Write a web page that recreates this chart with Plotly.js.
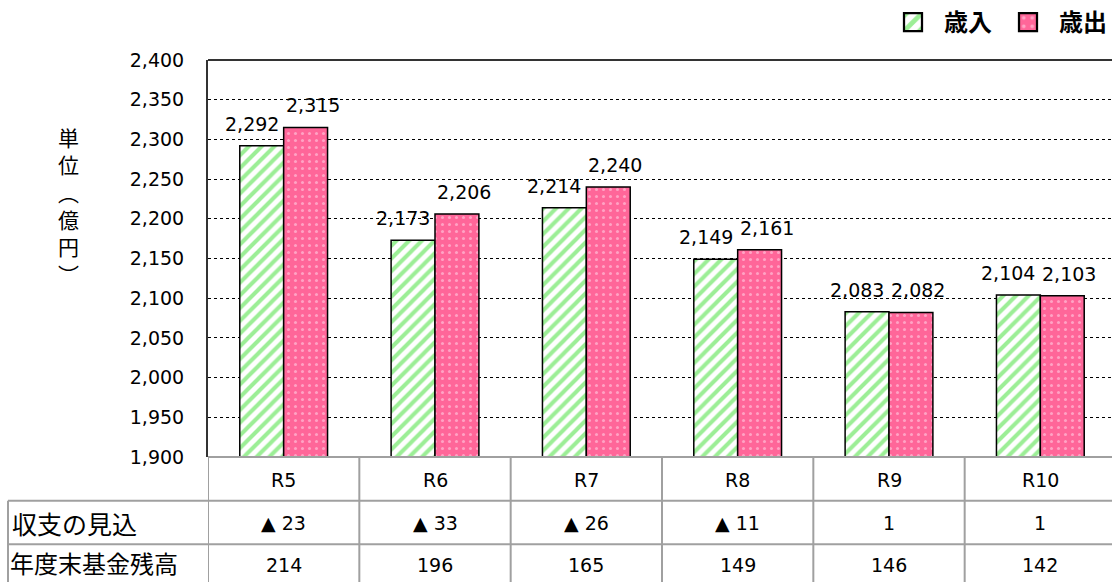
<!DOCTYPE html>
<html><head><meta charset="utf-8">
<script src="https://cdn.plot.ly/plotly-3.0.1.min.js"></script>
<style>html,body{margin:0;padding:0;background:#fff;}#chart{width:1112px;height:582px;}</style>
</head><body><div id="chart"></div>
<script>
const categories = ["R5","R6","R7","R8","R9","R10"];
const revenue = [2292, 2173, 2214, 2149, 2083, 2104];
const expenditure = [2315, 2206, 2240, 2161, 2082, 2103];
const balanceLabels = ["▲ 23","▲ 33","▲ 26","▲ 11","1","1"];
const fundBalance = [214, 196, 165, 149, 146, 142];
const rowTitles = ["収支の見込","年度末基金残高"];
const seriesNames = ["歳入","歳出"];
const yTickVals = [1900,1950,2000,2050,2100,2150,2200,2250,2300,2350,2400];

const FONT = "DejaVu Sans, Noto Sans CJK JP, sans-serif";
const JFONT = "Noto Sans CJK JP, sans-serif";
const NS = 19;
const fmt = v => v.toLocaleString("en-US");

const traces = [
  {type:"bar", name:seriesNames[0], x:categories, y:revenue,
   marker:{color:"#ffffff", line:{color:"#000", width:1.5},
     pattern:{shape:"/", fgcolor:"#9cee96", bgcolor:"#ffffff", size:9, solidity:0.45}},
   hoverinfo:"skip"},
  {type:"bar", name:seriesNames[1], x:categories, y:expenditure,
   marker:{color:"#ff6699", line:{color:"#000", width:1.5},
     pattern:{shape:".", fgcolor:"#ffa3c4", bgcolor:"#ff6699", size:7, solidity:0.15}},
   hoverinfo:"skip"}
];

const ann = [];
categories.forEach((c,i)=>{
  ann.push({x:c, y:revenue[i], xref:"x", yref:"y", text:fmt(revenue[i]), showarrow:false,
    xanchor:"center", yanchor:"bottom", xshift:-32, yshift:9, font:{family:FONT, size:NS, color:"#000"}});
  ann.push({x:c, y:expenditure[i], xref:"x", yref:"y", text:fmt(expenditure[i]), showarrow:false,
    xanchor:"center", yanchor:"bottom", xshift:29, yshift:9, font:{family:FONT, size:NS, color:"#000"}});
  ann.push({x:c, y:-0.057, xref:"x", yref:"paper", text:c, showarrow:false,
    xanchor:"center", yanchor:"middle", font:{family:FONT, size:NS, color:"#000"}});
  ann.push({x:c, y:-0.167, xref:"x", yref:"paper", text:balanceLabels[i], showarrow:false,
    xanchor:"center", yanchor:"middle", font:{family:FONT, size:NS, color:"#000"}});
  ann.push({x:c, y:-0.272, xref:"x", yref:"paper", text:String(fundBalance[i]), showarrow:false,
    xanchor:"center", yanchor:"middle", font:{family:FONT, size:NS, color:"#000"}});
});
ann.push({x:(10-208)/904, y:-0.167, xref:"paper", yref:"paper", text:rowTitles[0], showarrow:false,
  xanchor:"left", yanchor:"middle", font:{family:JFONT, size:25, color:"#000"}});
ann.push({x:(8-208)/904, y:-0.266, xref:"paper", yref:"paper", text:rowTitles[1], showarrow:false,
  xanchor:"left", yanchor:"middle", font:{family:JFONT, size:24, color:"#000"}});
ann.push({x:(68-208)/904, y:(458-205)/400, xref:"paper", yref:"paper",
  text:"単<br>位<br>︵<br>億<br>円<br>︶", showarrow:false, align:"center",
  xanchor:"center", yanchor:"middle", font:{family:JFONT, size:21, color:"#000"}});

const shapes = [];
const G = "#a0a0a0";
const LX = (8-208)/904;
shapes.push({type:"line", xref:"paper", yref:"paper", x0:0, x1:1, y0:1, y1:1, line:{color:"#333", width:2}});
shapes.push({type:"line", xref:"paper", yref:"paper", x0:0, x1:1, y0:0, y1:0, line:{color:G, width:2}});
shapes.push({type:"line", xref:"paper", yref:"paper", x0:LX, x1:1, y0:-0.11, y1:-0.11, line:{color:G, width:2}});
shapes.push({type:"line", xref:"paper", yref:"paper", x0:LX, x1:1, y0:-0.22, y1:-0.22, line:{color:G, width:2}});
shapes.push({type:"line", xref:"paper", yref:"paper", x0:LX, x1:LX, y0:-0.11, y1:-0.35, line:{color:G, width:2}});
for (let k=0;k<=categories.length;k++){
  shapes.push({type:"line", xref:"x", yref:"paper", x0:k-0.5, x1:k-0.5, y0:0, y1:-0.35, line:{color:G, width:2}});
}

const layout = {
  width:1112, height:582,
  margin:{l:208, r:0, t:57, b:125},
  paper_bgcolor:"#fff", plot_bgcolor:"#fff",
  barmode:"group", bargap:0.42, bargroupgap:0,
  showlegend:true,
  legend:{orientation:"h", x:1.0, xanchor:"right", y:1.095, yanchor:"middle",
    font:{family:JFONT, size:24, color:"#000", weight:"bold"}, itemwidth:52, traceorder:"normal",
    bgcolor:"rgba(0,0,0,0)"},
  xaxis:{type:"category", range:[-0.5, 5.5-4/151.3], showticklabels:false, ticks:"",
    showgrid:false, zeroline:false, showline:false, fixedrange:true},
  yaxis:{range:[1900,2400], tickvals:yTickVals, ticktext:yTickVals.map(fmt),
    ticks:"", ticklabelstandoff:18, tickfont:{family:FONT, size:NS, color:"#000"},
    showgrid:true, gridcolor:"#000", gridwidth:1, griddash:"dot",
    showline:true, linecolor:"#333", linewidth:2, zeroline:false},
  annotations:ann, shapes:shapes,
  font:{family:FONT}
};
Plotly.newPlot("chart", traces, layout, {staticPlot:true, displayModeBar:false}).then(gd=>{
  gd.querySelectorAll(".legend .legendpoints path").forEach(p=>{
    const t = p.getAttribute("transform") || "";
    p.setAttribute("transform", t + " scale(1.5)");
  });
});
</script></body></html>
